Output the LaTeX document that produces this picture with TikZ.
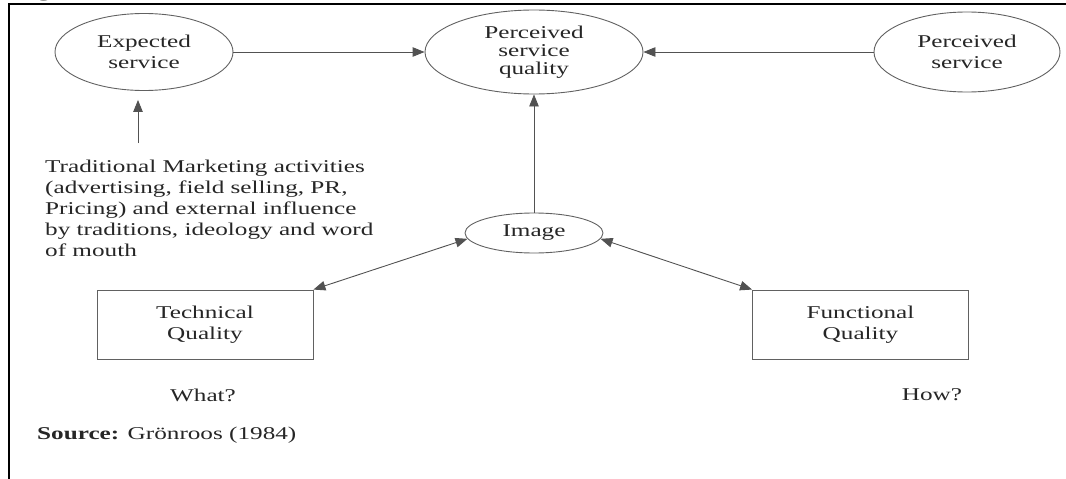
\documentclass[tikz,border=0pt]{standalone}
\usepackage{fontspec}
\setmainfont{Liberation Serif}[FakeStretch=1.4]
\usetikzlibrary{arrows.meta,shapes.geometric}

\tikzset{
  lbl/.style={text=black!85, font=\fontsize{18}{21}\selectfont, inner sep=0pt},
  oval/.style={lbl, ellipse, draw=black!62, line width=0.9pt, align=center},
  qbox/.style={lbl, rectangle, draw=black!62, line width=0.9pt, align=center,
    minimum width=216pt, minimum height=69pt},
  tip/.style={-{Triangle[length=12pt,width=9.5pt]}, draw=black!68, line width=0.9pt},
  dtip/.style={{Triangle[length=12pt,width=9.5pt]}-{Triangle[length=12pt,width=9.5pt]},
    draw=black!68, line width=0.9pt},
  frame/.style={draw=black, line width=1.4pt}
}

\begin{document}
\begin{tikzpicture}[x=1pt,y=-1pt]
  \useasboundingbox (0,0) rectangle (1066,479);

  % outer frame (top and left edges) and heading fragment
  \node[font=\fontsize{20}{24}\selectfont\bfseries, anchor=base west, inner sep=0pt] (head) at (37,-3) {g};
  \coordinate (ftl) at (9,4);
  \coordinate (ftr) at (1066,4);
  \coordinate (fbl) at (9,479);
  \draw[frame] (ftr) -- (ftl) -- (fbl);

  % top row
  \node[oval, minimum width=178pt, minimum height=77pt] (exp) at (144,52) {Expected\\service};
  \node[oval, minimum width=218pt, minimum height=84pt,
        font=\fontsize{18}{18}\selectfont] (psq) at (534,52) {Perceived\\service\\quality};
  \node[oval, minimum width=186pt, minimum height=80pt] (ps) at (967,52) {Perceived\\service};

  % image and the two quality dimensions
  \node[oval, minimum width=138pt, minimum height=40pt] (img) at (534,233) {Image};
  \node[qbox] (tq) at (205,324.5) {Technical\\Quality};
  \node[qbox] (fq) at (860.5,324.5) {Functional\\Quality};

  % marketing influences
  \node[lbl, align=left, anchor=north west] (mkt) at (45,160)
    {Traditional Marketing activities\\(advertising, field selling, PR,\\Pricing) and external influence\\by traditions, ideology and word\\of mouth};
  \coordinate (mk) at (138,143);

  \node[lbl] (what) at (203,395) {What?};
  \node[lbl] (how) at (932,395) {How?};
  \node[lbl, anchor=west] (src) at (37,435) {\textbf{Source:} Grönroos (1984)};

  % connectors
  \draw[tip] (exp) -- (psq);
  \draw[tip] (ps) -- (psq);
  \draw[tip] (img) -- (psq);
  \draw[tip, shorten >=9pt] (mk) -- (mk |- exp.south);
  \draw[dtip] (img.185) -- (tq.north east);
  \draw[dtip] (img.355) -- (fq.north west);
\end{tikzpicture}
\end{document}
